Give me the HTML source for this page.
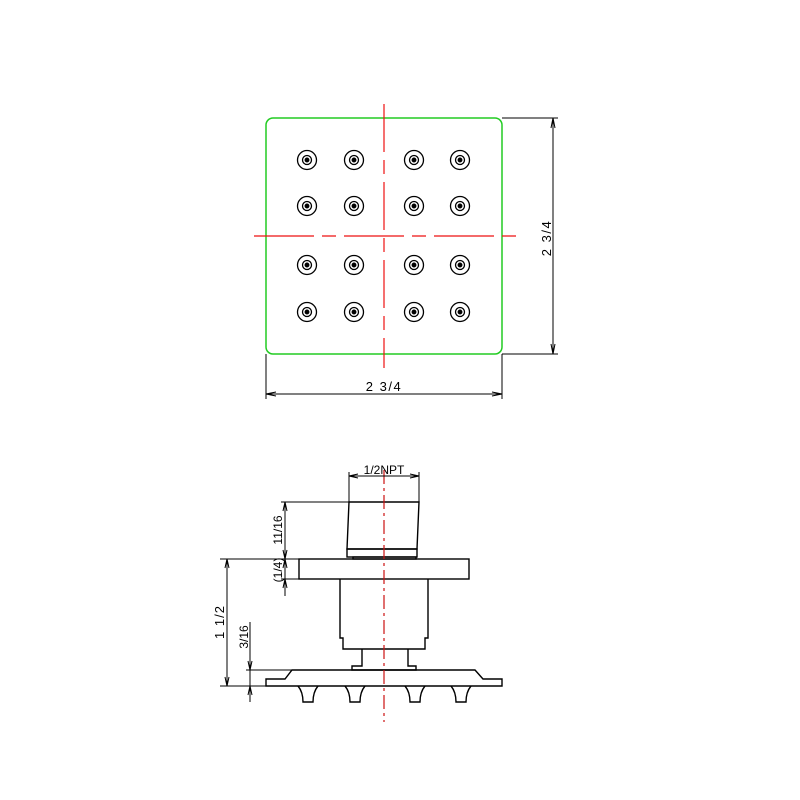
<!DOCTYPE html>
<html><head><style>html,body{margin:0;padding:0;background:#fff}svg{display:block}</style></head><body>
<svg width="800" height="800" viewBox="0 0 800 800" xmlns="http://www.w3.org/2000/svg" font-family="Liberation Sans, sans-serif">
<defs>
<g id="n"><circle r="9.5"/><circle r="4.5"/><circle r="1.8" fill="#000"/></g>
<path id="z" d="M-10,0 Q-5,6 -5,16 L5,16 Q5,6 10,0"/>
</defs>
<rect width="800" height="800" fill="#fff"/>
<!-- top view -->
<rect x="266" y="118" width="236" height="236" rx="7" fill="none" stroke="#22cc22" stroke-width="1.5"/>
<g stroke="#ee1111" stroke-width="1.2">
<line x1="384" y1="104" x2="384" y2="368" stroke-dasharray="48,8,14,8"/>
<line x1="254" y1="236" x2="516" y2="236" stroke-dasharray="60,8,14,8"/>
</g>
<g fill="none" stroke="#000" stroke-width="1.3">
<use href="#n" x="307" y="160"/><use href="#n" x="354" y="160"/><use href="#n" x="414" y="160"/><use href="#n" x="460" y="160"/>
<use href="#n" x="307" y="206"/><use href="#n" x="354" y="206"/><use href="#n" x="414" y="206"/><use href="#n" x="460" y="206"/>
<use href="#n" x="307" y="265"/><use href="#n" x="354" y="265"/><use href="#n" x="414" y="265"/><use href="#n" x="460" y="265"/>
<use href="#n" x="307" y="312"/><use href="#n" x="354" y="312"/><use href="#n" x="414" y="312"/><use href="#n" x="460" y="312"/>
</g>
<g stroke="#000" stroke-width="1" fill="none">
<line x1="502" y1="118" x2="558" y2="118"/><line x1="502" y1="354" x2="558" y2="354"/>
<line x1="553" y1="118" x2="553" y2="354"/>
<line x1="266" y1="354" x2="266" y2="399"/><line x1="502" y1="354" x2="502" y2="399"/>
<line x1="266" y1="394" x2="502" y2="394"/>
<path d="M551,128 L553,118 L555,128 M551,344 L553,354 L555,344 M276,392 L266,394 L276,396 M492,392 L502,394 L492,396"/>
</g>
<text x="384" y="391" font-size="13" text-anchor="middle" letter-spacing="1.5">2 3/4</text>
<text transform="translate(551,238) rotate(-90)" font-size="13" text-anchor="middle" letter-spacing="1.5">2 3/4</text>
<!-- side view -->
<g stroke="#000" stroke-width="1.4" fill="none">
<path d="M349,502 L419,502 L417,549 L347,549 Z"/>
<rect x="347" y="549" width="70" height="8"/>
<rect x="353" y="557" width="63" height="2"/>
<rect x="299" y="559" width="170" height="20"/>
<path d="M340,579 L340,638 L343,638 L343,649 L425,649 L425,638 L428,638 L428,579"/>
<path d="M362,649 L362,666 L352,666 L352,670 L416,670 L416,666 L408,666 L408,649"/>
<path d="M292,670 L475,670 L483,679 L502,679 L502,686 L266,686 L266,679 L285,679 Z"/>
<use href="#z" x="308" y="686"/><use href="#z" x="355" y="686"/><use href="#z" x="415" y="686"/><use href="#z" x="461" y="686"/>
</g>
<line x1="384" y1="470" x2="384" y2="722" stroke="#cc1111" stroke-width="1.2" stroke-dasharray="14,4,3,4"/>
<g stroke="#000" stroke-width="1" fill="none">
<line x1="349" y1="472" x2="349" y2="502"/><line x1="419" y1="472" x2="419" y2="502"/>
<line x1="349" y1="476" x2="419" y2="476"/>
<path d="M358,474 L349,476 L358,478 M410,474 L419,476 L410,478"/>
<line x1="281" y1="502" x2="349" y2="502"/>
<line x1="220" y1="559" x2="299" y2="559"/>
<line x1="281" y1="579" x2="299" y2="579"/>
<line x1="285" y1="502" x2="285" y2="596"/>
<path d="M283,511 L285,502 L287,511 M283,550 L285,559 L287,550 M283,568 L285,559 L287,568 M283,588 L285,579 L287,588"/>
<line x1="227" y1="559" x2="227" y2="686"/>
<line x1="220" y1="686" x2="266" y2="686"/>
<path d="M225,568 L227,559 L229,568 M225,677 L227,686 L229,677"/>
<line x1="246" y1="670" x2="292" y2="670"/>
<line x1="250" y1="622" x2="250" y2="702"/>
<path d="M248,661 L250,670 L252,661 M248,695 L250,686 L252,695"/>
</g>
<text x="384" y="474" font-size="12" text-anchor="middle">1/2NPT</text>
<text transform="translate(282,530) rotate(-90)" font-size="12" text-anchor="middle">11/16</text>
<text transform="translate(282,570) rotate(-90)" font-size="12" text-anchor="middle">(1/4)</text>
<text transform="translate(224,622) rotate(-90)" font-size="13" text-anchor="middle" letter-spacing="1">1 1/2</text>
<text transform="translate(248,637) rotate(-90)" font-size="12" text-anchor="middle">3/16</text>
</svg>
</body></html>
